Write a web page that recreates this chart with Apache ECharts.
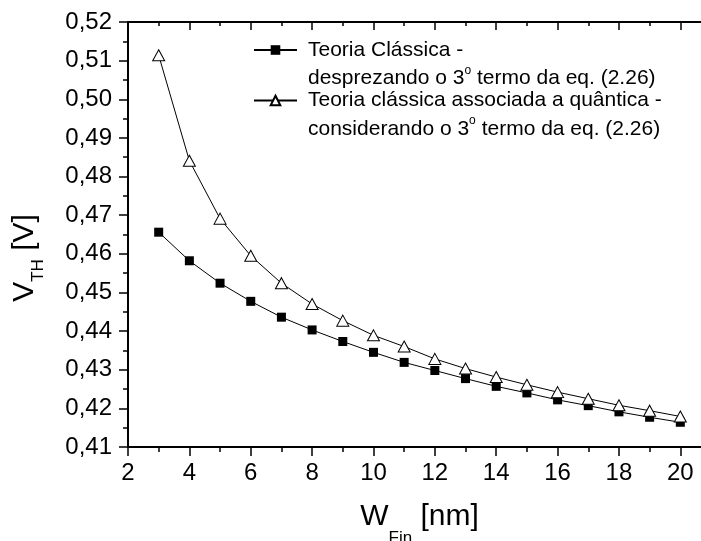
<!DOCTYPE html>
<html><head><meta charset="utf-8">
<script src="https://cdn.jsdelivr.net/npm/echarts@6/dist/echarts.min.js"></script>
<style>html,body{margin:0;padding:0;background:#fff}#c{width:701px;height:541px}</style>
</head><body><div id="c"></div>
<script>
// ---- data ----
const wFin = [3, 4, 5, 6, 7, 8, 9, 10, 11, 12, 13, 14, 15, 16, 17, 18, 19, 20];
const vthClassica = [0.4656, 0.4582, 0.4524, 0.4477, 0.4436, 0.4403, 0.4373, 0.4345, 0.4319, 0.4298, 0.4277, 0.4257, 0.4240, 0.4222, 0.4207, 0.4191, 0.4177, 0.4164];
const vthQuantica = [0.5114, 0.4841, 0.4691, 0.4595, 0.4524, 0.4470, 0.4427, 0.4389, 0.4360, 0.4328, 0.4303, 0.4281, 0.4261, 0.4242, 0.4225, 0.4208, 0.4194, 0.4179];
const nameClassica = 'Teoria Clássica - desprezando o 3º termo da eq. (2.26)';
const nameQuantica = 'Teoria clássica associada a quântica - considerando o 3º termo da eq. (2.26)';
const legendFirst = ['Teoria Clássica -', 'Teoria clássica associada a quântica -'];
const legendSecond = [['desprezando o 3', 'o', ' termo da eq. (2.26)'], ['considerando o 3', 'o', ' termo da eq. (2.26)']];
const xTitle = ['W', 'Fin', ' [nm]'];
const yTitle = ['V', 'TH', ' [V]'];

const FF = 'Liberation Sans, Arial, sans-serif';
const L = 28.5;
const chart = echarts.init(document.getElementById('c'), null, {renderer: 'canvas'});

const axisLineStyle = {color: '#000', width: 2};
const tickStyle = {color: '#000', width: 1.5};

chart.setOption({
  animation: false,
  backgroundColor: '#fff',
  grid: {left: 128, right: -10, top: 22, bottom: 94, containLabel: false, outerBoundsMode: 'none'},
  legend: {
    orient: 'vertical', left: 253, top: 11, padding: 0, itemGap: -27.5,
    itemWidth: 43, itemHeight: 12, selectedMode: false,
    data: [nameClassica, nameQuantica],
    formatter: function (name) {
      const i = name === nameClassica ? 0 : 1;
      const s = legendSecond[i];
      return '{h| }\n{t|' + legendFirst[i] + '}\n{t|' + s[0] + '}{s|' + s[1] + '}{t|' + s[2] + '}';
    },
    textStyle: {
      color: '#000', fontFamily: FF, fontSize: 21, padding: [0, 0, 0, 6],
      rich: {
        h: {fontSize: 21, lineHeight: L, fontFamily: FF},
        t: {fontSize: 21, lineHeight: L, color: '#000', fontFamily: FF},
        s: {fontSize: 12, lineHeight: 16, verticalAlign: 'top', color: '#000', fontFamily: FF}
      }
    }
  },
  xAxis: [{
    type: 'value', min: 2, max: 21, interval: 2, position: 'bottom',
    axisLine: {show: true, onZero: false, lineStyle: axisLineStyle},
    axisTick: {show: true, length: 9, lineStyle: tickStyle},
    minorTick: {show: true, splitNumber: 2, length: 5, lineStyle: tickStyle},
    splitLine: {show: false}, minorSplitLine: {show: false},
    axisLabel: {color: '#000', fontSize: 24, fontFamily: FF, margin: 14,
      formatter: v => (v % 2 === 0 && v <= 20) ? String(v) : ''},
    name: '{w|' + xTitle[0] + '}{s|' + xTitle[1] + '}{w|' + xTitle[2] + '}',
    nameLocation: 'middle', nameGap: 40,
    nameTextStyle: {rich: {
      w: {fontSize: 30, lineHeight: 60, color: '#000', fontFamily: FF},
      s: {fontSize: 17, lineHeight: 20, verticalAlign: 'bottom', color: '#000', fontFamily: FF}
    }}
  }, {
    type: 'value', min: 2, max: 21, interval: 2, position: 'top',
    axisLine: {show: true, onZero: false, lineStyle: axisLineStyle},
    axisTick: {show: true, inside: true, length: 8, lineStyle: tickStyle},
    minorTick: {show: true, splitNumber: 2, length: 4, lineStyle: tickStyle},
    splitLine: {show: false}, minorSplitLine: {show: false},
    axisLabel: {show: false}
  }],
  yAxis: {
    type: 'value', min: 0.41, max: 0.52, interval: 0.01,
    axisLine: {show: true, onZero: false, lineStyle: axisLineStyle},
    axisTick: {show: true, length: 9, lineStyle: tickStyle},
    minorTick: {show: true, splitNumber: 2, length: 5, lineStyle: tickStyle},
    splitLine: {show: false}, minorSplitLine: {show: false},
    axisLabel: {color: '#000', fontSize: 24, fontFamily: FF, margin: 16,
      formatter: v => v.toFixed(2).replace('.', ',')},
    name: '{v|' + yTitle[0] + '}{s|' + yTitle[1] + '}{v|' + yTitle[2] + '}',
    nameLocation: 'middle', nameRotate: 90, nameGap: 81,
    nameTextStyle: {padding: [0, 47, 0, 0], rich: {
      v: {fontSize: 30, lineHeight: 44, color: '#000', fontFamily: FF},
      s: {fontSize: 17, lineHeight: 16, verticalAlign: 'bottom', color: '#000', fontFamily: FF}
    }}
  },
  series: [{
    name: nameClassica, type: 'line', xAxisIndex: 0,
    data: wFin.map((x, i) => [x, vthClassica[i]]),
    symbol: 'rect', symbolSize: 9,
    lineStyle: {color: '#000', width: 1},
    itemStyle: {color: '#000', borderColor: '#000', borderWidth: 0},
    emphasis: {disabled: true}
  }, {
    name: nameQuantica, type: 'line', xAxisIndex: 0,
    data: wFin.map((x, i) => [x, vthQuantica[i]]),
    symbol: 'triangle', symbolSize: [12, 11],
    lineStyle: {color: '#000', width: 1},
    itemStyle: {color: '#fff', borderColor: '#000', borderWidth: 1},
    emphasis: {disabled: true}
  }]
});
</script></body></html>
